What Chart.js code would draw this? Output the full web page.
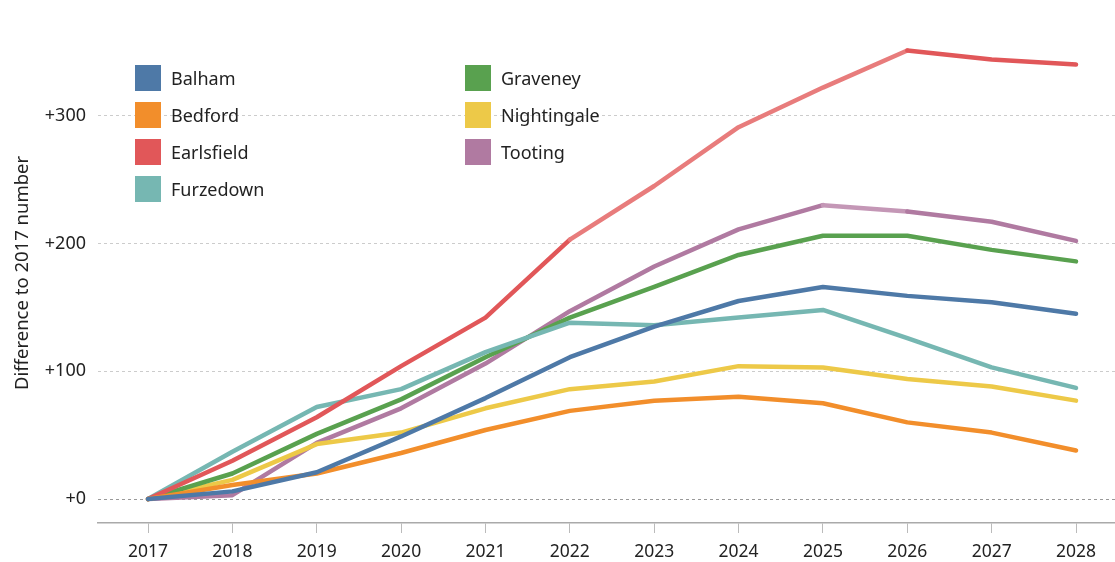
<!DOCTYPE html>
<html>
<head>
<meta charset="utf-8">
<script src="https://cdn.jsdelivr.net/npm/chart.js@4"></script>
<style>
    body { margin: 0; background: #fff; }
    #wrap { position: relative; width: 1115px; height: 562px; }
    #legend { position: absolute; left: 0; top: 0; font-family: "Noto Sans", sans-serif; font-size: 18px; color: #222; }
    .item { position: absolute; height: 26px; line-height: 26px; white-space: nowrap; }
    .swatch { display: inline-block; width: 26px; height: 26px; vertical-align: top; margin-right: 10px; }
</style>
</head>
<body>
<div id="wrap">
    <canvas id="chart" width="1115" height="562"></canvas>
    <div id="legend"></div>
</div>
<script>
// Years on the x axis
const years = [2017, 2018, 2019, 2020, 2021, 2022, 2023, 2024, 2025, 2026, 2027, 2028];
const yTicks = [0, 100, 200, 300];

// Difference to 2017 number, per school
const balham      = [0, 6, 21, 49, 79, 111, 135, 155, 166, 159, 154, 145];
const bedford     = [0, 11, 20, 36, 54, 69, 77, 80, 75, 60, 52, 38];
const earlsfield  = [0, 30, 64, 104, 142, 203, 245, 291, 322, 351, 344, 340];
const furzedown   = [0, 37, 72, 86, 115, 138, 136, 142, 148, 126, 103, 87];
const graveney    = [0, 20, 51, 78, 111, 142, 166, 191, 206, 206, 195, 186];
const nightingale = [0, 15, 43, 52, 71, 86, 92, 104, 103, 94, 88, 77];
const tooting     = [0, 3, 44, 71, 106, 147, 182, 211, 230, 225, 217, 202];

const names  = ['Balham', 'Bedford', 'Earlsfield', 'Furzedown', 'Graveney', 'Nightingale', 'Tooting'];
const series = [balham, bedford, earlsfield, furzedown, graveney, nightingale, tooting];
const colors = ['#4e79a7', '#f28e2b', '#e15759', '#76b7b2', '#59a14f', '#edc948', '#b07aa1'];
const lighter = { Earlsfield: ['#e87c7c', 2022, 2026], Tooting: ['#c497b6', 2025, 2026] };

const datasets = names.map((name, i) => {
    const ds = {
        label: name,
        data: years.map((yr, j) => ({ x: yr, y: series[i][j] })),
        borderColor: colors[i],
        backgroundColor: colors[i],
        borderWidth: 4.5,
        borderCapStyle: 'round',
        borderJoinStyle: 'round',
        pointRadius: 0,
        tension: 0,
        fill: false
    };
    if (lighter[name]) {
        const [c, from, to] = lighter[name];
        ds.segment = {
            borderColor: ctx => (ctx.p0.parsed.x >= from && ctx.p1.parsed.x <= to) ? c : undefined
        };
    }
    return ds;
});

const family = '"Noto Sans", sans-serif';

new Chart(document.getElementById('chart'), {
    type: 'line',
    data: { datasets: datasets },
    options: {
        responsive: false,
        animation: false,
        layout: { padding: { top: 0, right: 0, bottom: 0, left: 12 } },
        plugins: { legend: { display: false }, tooltip: { enabled: false } },
        scales: {
            x: {
                type: 'linear',
                min: 2016.407,
                max: 2028.462,
                afterBuildTicks: axis => { axis.ticks = years.map(v => ({ value: v })); },
                afterFit: axis => { axis.height = 39; },
                ticks: { color: '#222', font: { family: family, size: 17.5 }, padding: 9, maxRotation: 0, callback: v => String(v) },
                grid: { drawOnChartArea: false, drawTicks: true, tickLength: 10, color: '#bbb' },
                border: { display: true, color: '#aaa', width: 1.5 }
            },
            y: {
                min: -18.75,
                max: 372.7,
                afterBuildTicks: axis => { axis.ticks = yTicks.map(v => ({ value: v })); },
                afterFit: axis => { axis.width = 86; },
                ticks: { color: '#222', font: { family: family, size: 18 }, padding: 12, callback: v => '+' + v },
                grid: {
                    drawTicks: false,
                    color: ctx => ctx.tick && ctx.tick.value === 0 ? '#999' : '#ccc',
                    lineWidth: 1
                },
                border: { display: false, dash: [3, 3] },
                title: { display: true, text: 'Difference to 2017 number', color: '#222', font: { family: family, size: 18.5 }, padding: { top: 0, bottom: 4 } }
            }
        }
    }
});

// Two-column legend
const legend = document.getElementById('legend');
names.forEach((name, i) => {
    const col = i < 4 ? 0 : 1;
    const row = i < 4 ? i : i - 4;
    const el = document.createElement('div');
    el.className = 'item';
    el.style.left = (135 + col * 330) + 'px';
    el.style.top = (65 + row * 37) + 'px';
    el.innerHTML = '<span class="swatch" style="background:' + colors[i] + '"></span>' + name;
    legend.appendChild(el);
});
</script>
</body>
</html>
